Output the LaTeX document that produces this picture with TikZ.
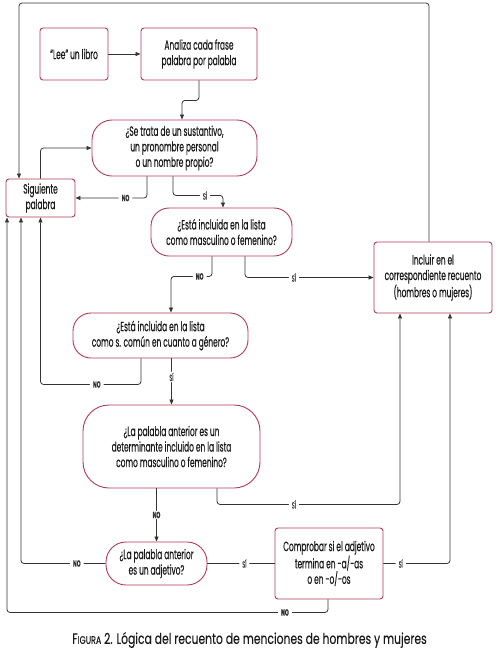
\documentclass[tikz,border=0pt]{standalone}
\usepackage{fontspec}
\setmainfont{Poppins}[FakeStretch=0.55,FakeBold=0.35]
\newfontfamily\capfont{Poppins}[FakeStretch=0.72,FakeBold=0.15]
\usetikzlibrary{arrows.meta,calc}
\definecolor{bord}{HTML}{B03A55}
\definecolor{ln}{HTML}{333333}
\newcommand\boxfont{\fontsize{13.5}{15.5}\selectfont}
\newcommand\lblfont{\fontsize{9}{10}\selectfont}
\begin{document}
\begin{tikzpicture}[x=1pt,y=-1pt,
 box/.style={draw=bord, line width=0.9pt, rounded corners=3pt, align=center, font=\boxfont, inner sep=0pt, text=black!90},
 pill/.style={box, rounded corners=18pt},
 conn/.style={draw=ln, line width=0.8pt, rounded corners=3pt},
 arr/.style={conn, -{Triangle[length=5pt,width=4pt]}},
 lbl/.style={fill=white, font=\lblfont, inner xsep=3pt, inner ysep=1pt, text=ln}]
\useasboundingbox (0,0) rectangle (499,657);
\node[box, minimum width=68, minimum height=52] (lee) at (74,54) {“Lee” un libro};
\node[box, minimum width=116, minimum height=52] (ana) at (199,54) {Analiza cada frase\\palabra por palabla};
\node[pill, rounded corners=20pt, minimum width=165, minimum height=56] (set) at (174.5,148) {¿Se trata de un sustantivo,\\un pronombre personal\\o un nombre propio?};
\node[box, minimum width=69, minimum height=38] (sig) at (40.5,198) {Siguiente\\palabra};
\node[pill, minimum width=141, minimum height=48] (e1) at (221.5,232) {¿Está incluida en la lista\\como masculino o femenino?};
\node[box, minimum width=118, minimum height=71] (inc) at (433,277.5) {Incluir en el\\correspondiente recuento\\(hombres o mujeres)};
\node[pill, minimum width=175, minimum height=45] (e2) at (160.5,335.5) {¿Está incluida en la lista\\como s. común en cuanto a género?};
\node[pill, rounded corners=26pt, minimum width=177, minimum height=83] (det) at (171.5,446.5) {¿La palabla anterior es un\\determinante incluido en la lista\\como masculino o femenino?};
\node[pill, rounded corners=20pt, minimum width=101, minimum height=43] (adj) at (156.5,563.5) {¿La palabla anterior\\es un adjetivo?};
\node[box, minimum width=108, minimum height=71] (comp) at (329,563.5) {Comprobar si el adjetivo\\termina en -a/-as\\o en -o/-os};
\node[font=\capfont\fontsize{15}{18}\selectfont, text=black!90] (cap) at (249.5,640) {F{\fontsize{11}{12}\selectfont IGURA} 2. Lógica del recuento de menciones de hombres y mujeres};
\coordinate (tl) at (19,3);
% connectors
\draw[arr] (lee.east) -- (ana.west);
\draw[arr] (ana.south) -- ++(0,20) -| ([xshift=7.5pt]set.north);
\draw[arr] ([xshift=-27.5pt]set.south) |- node[lbl,pos=0.65]{\bfseries NO} (sig.east);
\draw[arr] ([xshift=-1.5pt]set.south) -- ++(0,19) -| node[lbl,pos=0.32]{SÍ} ([xshift=1.5pt]e1.north);
\draw[arr] (sig.north) |- (set.west);
\draw[arr] ([xshift=-4pt]inc.north) |- (tl) -- ([xshift=-21.5pt]sig.north);
\draw[arr] ([xshift=-9.5pt]e1.south) -- ++(0,20) -| node[lbl,pos=0.15]{\bfseries NO} ([xshift=10.5pt]e2.north);
\draw[arr] ([xshift=23.5pt]e1.south) |- node[lbl,pos=0.69]{SÍ} (inc.west);
\draw[arr] ([xshift=-19.5pt]e2.south) -- ++(0,26) -| node[lbl,pos=0.22]{\bfseries NO} (sig.south);
\draw[arr] (det.north |- e2.south) -- node[lbl,pos=0.4]{SÍ} (det.north);
\draw[arr] (adj.north |- det.south) -- node[lbl]{\bfseries NO} (adj.north);
\draw[arr] ([xshift=45.5pt]det.south) -- ++(0,16) -| node[lbl,pos=0.21]{SÍ} ([xshift=-33pt]inc.south);
\draw[arr] (adj.west) -| node[lbl,pos=0.17]{\bfseries NO} ([xshift=-19.5pt]sig.south);
\draw[conn] (adj.east) -- node[lbl,pos=0.55]{SÍ} (comp.west);
\draw[arr] (comp.east) -| node[lbl,pos=0.13]{SÍ} ([xshift=17pt]inc.south);
\draw[arr] ([xshift=-1pt]comp.south) -- ++(0,13) -| node[lbl,pos=0.067]{\bfseries NO} ([xshift=-33.5pt]sig.south);
\end{tikzpicture}
\end{document}
